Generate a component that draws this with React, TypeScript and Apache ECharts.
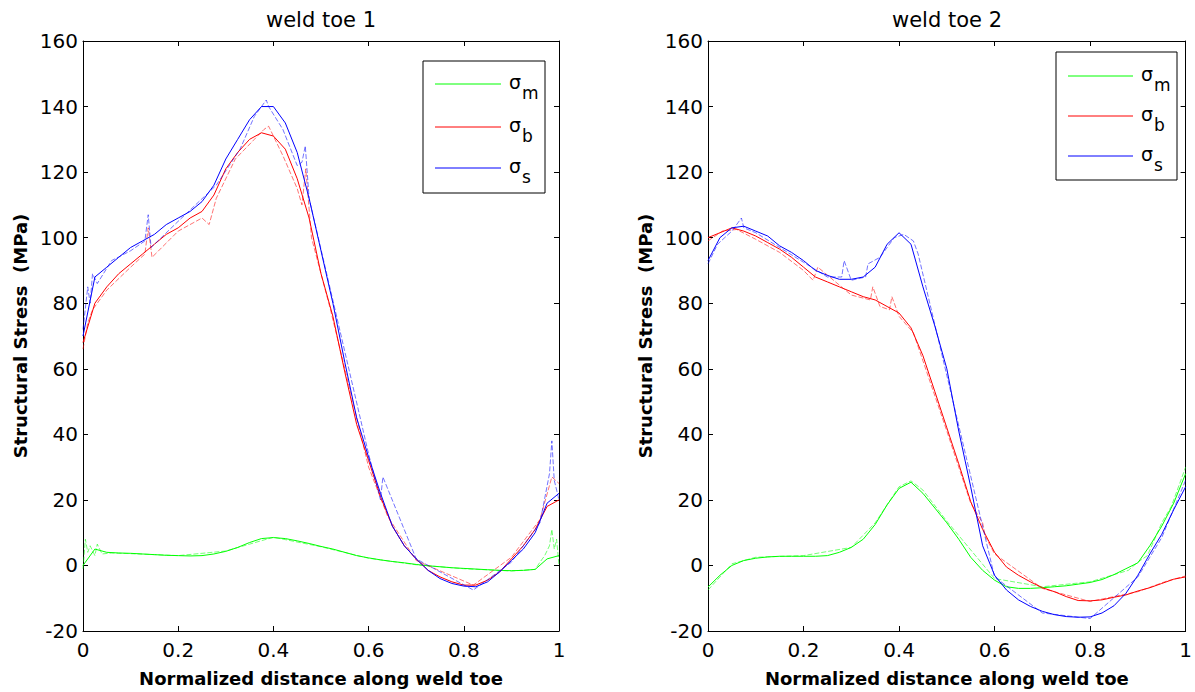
import React, { useEffect, useRef } from "react";
import * as echarts from "echarts";

// ---------- data ----------
const xGrid = [
  0, 0.025, 0.05, 0.075, 0.1, 0.125, 0.15, 0.175, 0.2, 0.225, 0.25, 0.275, 0.3, 0.325, 0.35, 0.375, 0.4,
  0.425, 0.45, 0.475, 0.5, 0.525, 0.55, 0.575, 0.6, 0.625, 0.65, 0.675, 0.7, 0.725, 0.75, 0.775, 0.8,
  0.825, 0.85, 0.875, 0.9, 0.925, 0.95, 0.975, 1,
];

// weld toe 1
const toe1Membrane = [
  0, 5, 4, 3.8, 3.7, 3.5, 3.3, 3.1, 3, 2.9, 3, 3.5, 4.3, 5.5, 7, 8.2, 8.5, 8.2, 7.5, 6.7, 5.8, 5, 4, 3,
  2.3, 1.7, 1.2, 0.8, 0.3, -0.1, -0.4, -0.7, -0.9, -1.1, -1.3, -1.5, -1.6, -1.5, -1.2, 2, 3,
];
const toe1Bending = [
  68, 80, 85, 89, 92, 95, 98, 101, 103, 106, 108, 113, 121, 126, 130, 132, 131, 127, 118, 106, 89, 76,
  59, 43, 32, 21, 12, 6, 2, -1.5, -3.5, -5, -6, -6, -4.5, -2, 2, 6, 11, 18, 20,
];
const toe1Structural = [
  70, 88, 91, 94, 97, 99, 101, 104, 106, 108, 111, 116, 124, 130, 136, 140, 140, 135, 126, 112, 96, 80,
  62, 45, 33, 22, 12, 6, 2, -1.5, -4, -5.5, -6.3, -6.5, -5, -2, 1.5, 5, 10, 19, 22,
];
// second (noisy) traces of weld toe 1
const toe1MembraneTraceX = [0, 0.005, 0.01, 0.015, 0.025, 0.03, 0.04, 0.06, 0.1, 0.2, 0.3, 0.4, 0.5, 0.6, 0.7, 0.8, 0.9, 0.95, 0.96, 0.97, 0.98, 0.985, 0.99, 0.995, 1];
const toe1MembraneTraceY = [-1, 8, 4, 6, 3, 6.5, 3.5, 3.8, 3.6, 3, 4.4, 8.6, 5.7, 2.2, 0.2, -1, -1.7, -1.2, 1, 3, 6, 11, 5, 8, 0];
const toe1BendingTraceX = [0, 0.01, 0.02, 0.05, 0.1, 0.13, 0.137, 0.145, 0.2, 0.25, 0.265, 0.28, 0.32, 0.36, 0.38, 0.39, 0.42, 0.45, 0.46, 0.468, 0.48, 0.52, 0.6, 0.64, 0.7, 0.82, 0.9, 0.96, 0.985, 1];
const toe1BendingTraceY = [66, 74, 78, 84, 91, 95, 103, 94, 102, 106, 104, 112, 124, 130, 133, 134, 125, 115, 110, 121, 100, 78, 30, 15, 1.5, -6, 2.5, 14, 27, 25];
const toe1StructuralTraceX = [0, 0.01, 0.015, 0.02, 0.03, 0.06, 0.1, 0.13, 0.137, 0.143, 0.2, 0.28, 0.33, 0.36, 0.385, 0.39, 0.42, 0.45, 0.46, 0.467, 0.475, 0.52, 0.6, 0.625, 0.63, 0.7, 0.82, 0.9, 0.96, 0.98, 0.985, 0.99, 1];
const toe1StructuralTraceY = [72, 85, 80, 89, 86, 93, 96, 99, 107, 97, 105, 116, 127, 137, 142, 140, 133, 122, 123, 128, 112, 84, 34, 20, 27, 2, -7.5, 1, 13, 28, 38, 26, 20];

// weld toe 2
const toe2Membrane = [
  -6.6, -3, 0, 1.5, 2.2, 2.6, 2.8, 2.8, 2.8, 2.8, 3, 4, 5.5, 8, 12.5, 18.5, 23.5, 25.4, 22, 17.5, 13, 8,
  2.5, -1.5, -4.5, -6.5, -7, -7, -6.8, -6.5, -6.2, -5.7, -5.2, -4.3, -2.8, -1, 0.8, 6, 12, 19, 28,
];
const toe2Bending = [
  100, 101.5, 103, 102, 100.5, 98.5, 96.5, 94, 91, 88, 86.5, 85, 83.5, 82, 81, 79, 77, 72.5, 64, 53, 42,
  31, 19.5, 11, 4, -0.5, -3, -5, -6.8, -8, -9.5, -10.7, -10.8, -10.5, -9.7, -9, -7.8, -6.8, -5.5, -4.2, -3.5,
];
const toe2Structural = [
  93, 100, 103, 103.5, 102, 100.5, 97.5, 95.5, 93, 90, 88.5, 87.3, 87.3, 88, 91, 98, 101.5, 98, 85, 73,
  60, 41, 24, 6, -3, -7.5, -10.5, -12.5, -14, -15, -15.6, -15.8, -15.7, -14.5, -12.3, -8.5, -3, 3.5, 9.5, 17, 24,
];
const toe2MembraneTraceX = [0, 0.05, 0.1, 0.2, 0.3, 0.35, 0.4, 0.425, 0.45, 0.5, 0.6, 0.7, 0.8, 0.88, 0.9, 0.92, 0.95, 0.97, 0.99, 1];
const toe2MembraneTraceY = [-7.5, 0.5, 2.5, 3, 5.5, 13, 24, 25.8, 23, 13.5, -4, -6.5, -5, -1.5, 1, 3, 13, 18, 26, 30];
const toe2BendingTraceX = [0, 0.03, 0.06, 0.1, 0.15, 0.2, 0.22, 0.23, 0.3, 0.34, 0.345, 0.36, 0.38, 0.385, 0.4, 0.43, 0.5, 0.55, 0.575, 0.58, 0.6, 0.7, 0.8, 0.9, 0.96, 1];
const toe2BendingTraceY = [99, 102, 102.5, 99.5, 95.5, 90, 87, 91, 82.5, 81, 85, 79, 78, 82, 76, 71, 41, 19, 13, 9, 3.5, -7, -11, -8, -4.8, -3.2];
const toe2StructuralTraceX = [0, 0.02, 0.05, 0.07, 0.075, 0.1, 0.15, 0.2, 0.25, 0.28, 0.285, 0.3, 0.33, 0.335, 0.36, 0.39, 0.41, 0.43, 0.44, 0.5, 0.6, 0.7, 0.8, 0.9, 0.95, 1];
const toe2StructuralTraceY = [92, 98, 102, 106, 103, 101.5, 97, 92.5, 88, 88, 93, 87, 88, 92, 94, 100, 101, 99, 95, 58, -3.5, -14.5, -16.2, -3.5, 8.5, 26];

const panelTitles = ["weld toe 1", "weld toe 2"];
const legendSubs = ["m", "b", "s"];
const colors = ["#00ff00", "#ff0000", "#0000ff"];
const xTitle = "Normalized distance along weld toe";
const yTitle = "Structural Stress  (MPa)";

// ---------- helpers ----------
const FONT = '"DejaVu Sans", sans-serif';
const zip = (xs: number[], ys: number[]) => xs.map((x, i) => [x, ys[i]]);

function axes(gridIndex: number) {
  const line = { show: true, onZero: false, lineStyle: { color: "#000", width: 1 } };
  const tick = { show: true, inside: true, length: 5, lineStyle: { color: "#000", width: 1 } };
  const xBase = { type: "value", gridIndex, min: 0, max: 1, interval: 0.2, axisLine: line, axisTick: tick, splitLine: { show: false } };
  const yBase = { type: "value", gridIndex, min: -20, max: 160, interval: 20, axisLine: line, axisTick: tick, splitLine: { show: false } };
  return {
    x: [
      {
        ...xBase,
        position: "bottom",
        axisLabel: {
          color: "#000",
          fontSize: 20,
          fontFamily: FONT,
          margin: 9,
          formatter: (v: number) => String(parseFloat(v.toFixed(1))),
        },
        name: xTitle,
        nameLocation: "middle",
        nameGap: 38,
        nameTextStyle: { color: "#000", fontSize: 18, fontWeight: "bold", fontFamily: FONT },
      },
      { ...xBase, position: "top", axisLabel: { show: false } },
    ],
    y: [
      {
        ...yBase,
        position: "left",
        axisLabel: { color: "#000", fontSize: 20, fontFamily: FONT, margin: 5 },
        name: yTitle,
        nameLocation: "middle",
        nameGap: 54,
        nameTextStyle: { color: "#000", fontSize: 18, fontWeight: "bold", fontFamily: FONT },
      },
      { ...yBase, position: "right", axisLabel: { show: false } },
    ],
  };
}

function legend(bx: number, by: number, bw: number, bh: number, ys: number[], lx1: number, lx2: number, tx: number) {
  const els: any[] = [
    { type: "rect", shape: { x: bx, y: by, width: bw, height: bh }, style: { fill: "#fff", stroke: "#000", lineWidth: 1 }, z: 100 },
  ];
  ys.forEach((y, i) => {
    els.push({ type: "line", shape: { x1: lx1, y1: y, x2: lx2, y2: y }, style: { stroke: colors[i], lineWidth: 1 }, z: 101 });
    els.push({
      type: "text",
      x: tx,
      y: y - 2,
      style: { text: "σ", font: `19px ${FONT}`, fill: "#000", textVerticalAlign: "middle" },
      z: 101,
    });
    els.push({
      type: "text",
      x: tx + 13,
      y: y + 9,
      style: { text: legendSubs[i], font: `17px ${FONT}`, fill: "#000", textVerticalAlign: "middle" },
      z: 101,
    });
  });
  return els;
}

export default function App() {
  const ref = useRef<HTMLDivElement>(null);

  useEffect(() => {
    if (!ref.current) return;
    const chart = echarts.init(ref.current, undefined, { renderer: "svg" });
    const a0 = axes(0);
    const a1 = axes(1);

    const panels = [
      {
        main: [toe1Membrane, toe1Bending, toe1Structural],
        traces: [
          [toe1MembraneTraceX, toe1MembraneTraceY],
          [toe1BendingTraceX, toe1BendingTraceY],
          [toe1StructuralTraceX, toe1StructuralTraceY],
        ],
      },
      {
        main: [toe2Membrane, toe2Bending, toe2Structural],
        traces: [
          [toe2MembraneTraceX, toe2MembraneTraceY],
          [toe2BendingTraceX, toe2BendingTraceY],
          [toe2StructuralTraceX, toe2StructuralTraceY],
        ],
      },
    ];

    const series: any[] = [];
    panels.forEach((p, pi) => {
      for (let i = 0; i < 3; i++) {
        series.push({
          type: "line",
          name: `trace-${pi}-${i}`,
          xAxisIndex: pi * 2,
          yAxisIndex: pi * 2,
          data: zip(p.traces[i][0], p.traces[i][1]),
          showSymbol: false,
          symbol: "none",
          lineStyle: { color: colors[i], width: 1, opacity: 0.55, type: [5, 2] },
          z: 2 + i,
        });
        series.push({
          type: "line",
          name: `main-${pi}-${i}`,
          xAxisIndex: pi * 2,
          yAxisIndex: pi * 2,
          data: zip(xGrid, p.main[i]),
          showSymbol: false,
          symbol: "none",
          lineStyle: { color: colors[i], width: 1 },
          z: 2 + i,
        });
      }
    });

    chart.setOption({
      animation: false,
      backgroundColor: "#fff",
      grid: [
        { left: 83, top: 41, width: 476, height: 591 },
        { left: 708, top: 41, width: 478, height: 591 },
      ],
      xAxis: [...a0.x, ...a1.x],
      yAxis: [...a0.y, ...a1.y],
      series,
      graphic: [
        { type: "text", x: 321, y: 20, style: { text: panelTitles[0], font: `21px ${FONT}`, fill: "#000", textAlign: "center", textVerticalAlign: "middle" } },
        { type: "text", x: 947, y: 20, style: { text: panelTitles[1], font: `21px ${FONT}`, fill: "#000", textAlign: "center", textVerticalAlign: "middle" } },
        ...legend(423, 61, 122, 132, [84, 127, 168], 435, 501, 509),
        ...legend(1056, 52, 121, 128, [76, 116, 156], 1068, 1133, 1141),
      ],
    });
    return () => chart.dispose();
  }, []);

  return <div ref={ref} style={{ position: "fixed", left: 0, top: 0, width: 1195, height: 692, background: "#fff" }} />;
}
